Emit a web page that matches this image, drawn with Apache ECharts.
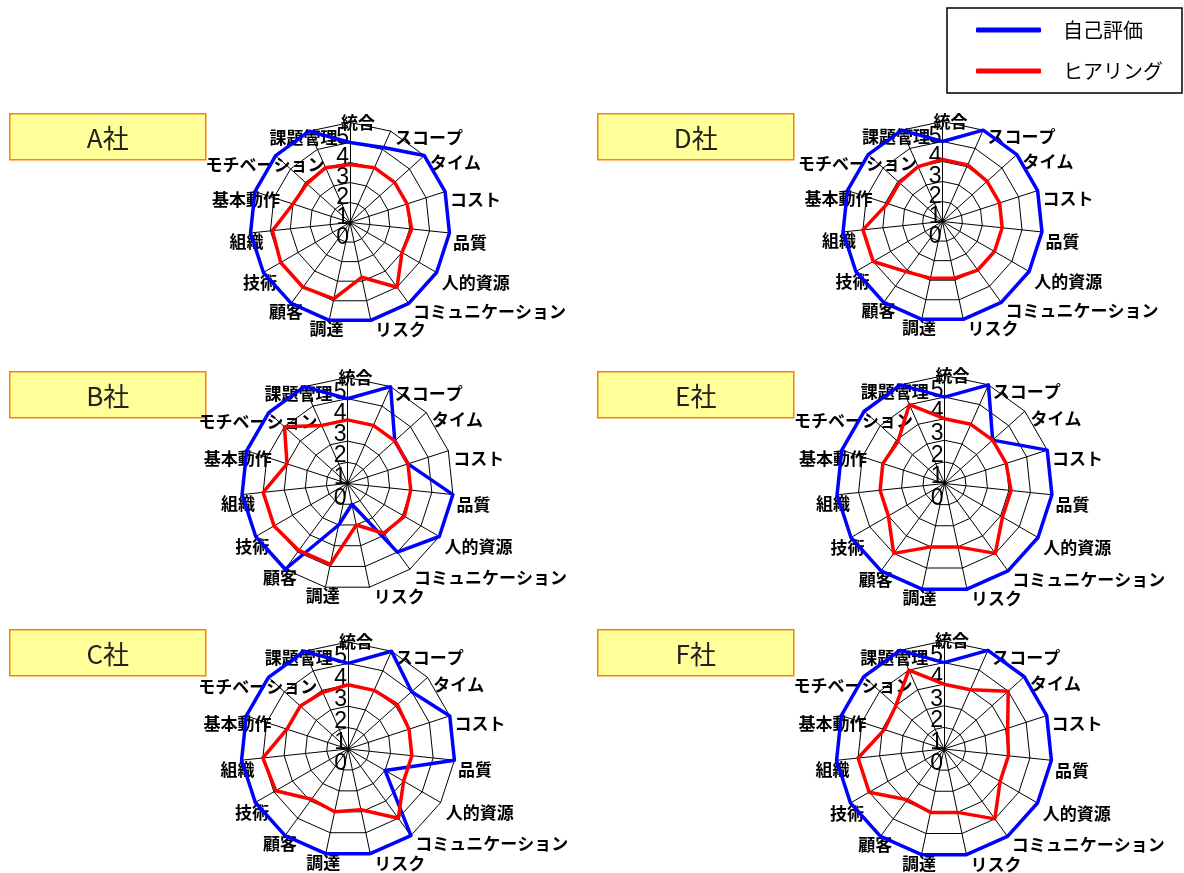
<!DOCTYPE html>
<html>
<head>
<meta charset="utf-8">
<script src="https://cdn.jsdelivr.net/npm/echarts@6/dist/echarts.min.js"></script>
<style>
  html, body { margin: 0; padding: 0; background: #fff; }
  #chart { width: 1184px; height: 873px; }
</style>
</head>
<body>
<div id="chart"></div>
<script>
// Evaluation items, listed clockwise from the top
const axes = ['統合', 'スコープ', 'タイム', 'コスト', '品質', '人的資源', 'コミュニケーション',
  'リスク', '調達', '顧客', '技術', '組織', '基本動作', 'モチベーション', '課題管理'];
const seriesNames = ['自己評価', 'ヒアリング'];
const companies = ['A社', 'B社', 'C社', 'D社', 'E社', 'F社'];
const tickLabels = ['0', '1', '2', '3', '4', '5'];
const scoreMax = 5;

// Self assessment scores per company
const selfA = [4, 4.1, 5, 5, 5, 5, 5, 5, 5, 5, 5, 5, 5, 5, 5];
const selfB = [4, 5, 3, 3, 5, 5, 4, 1, 2, 5, 5, 5, 5, 5, 5];
const selfC = [4, 5, 4, 5, 5, 2, 5, 5, 5, 5, 5, 5, 5, 5, 5];
const selfD = [4, 5, 5, 5, 5, 5, 5, 5, 5, 5, 5, 5, 5, 5, 5];
const selfE = [4, 5, 3, 5, 5, 5, 5, 5, 5, 5, 5, 5, 5, 5, 5];
const selfF = [4, 5, 5, 5, 5, 5, 5, 5, 5, 5, 5, 5, 5, 5, 5];

// Interview (hearing) scores per company
const hearA = [2.9, 3, 3, 3, 3.1, 3, 4, 2.8, 3.9, 4, 4, 3.9, 3, 2.9, 3];
const hearB = [3, 3, 3, 3, 3, 3.1, 2.9, 2, 3.9, 3.9, 4, 4, 3, 4, 3];
const hearC = [3, 3, 3.1, 3, 3, 3, 4, 2.9, 3, 2.9, 3.9, 4, 3, 3, 2.9];
const hearD = [3.1, 3.1, 3, 3, 3, 3, 3, 2.9, 2.9, 3.1, 4, 4, 2.9, 2.9, 3];
const hearE = [3, 3, 3, 3, 3.1, 3.1, 4, 3, 3, 4, 3, 3, 3, 2.9, 4];
const hearF = [3, 3, 4, 3.1, 3, 3, 4, 3, 3, 2.9, 4, 4, 2.9, 3, 4];

const selfScores = [selfA, selfB, selfC, selfD, selfE, selfF];
const hearScores = [hearA, hearB, hearC, hearD, hearE, hearF];

// Panel geometry: radar centre / radius, and the name plate rectangle
const panels = [
  { cx: 350, cy: 222.5, r: 100, box: [9, 113] },
  { cx: 347.5, cy: 483.5, r: 106, box: [9, 371] },
  { cx: 348, cy: 749, r: 107, box: [9, 629] },
  { cx: 942.5, cy: 221.5, r: 100, box: [597, 113] },
  { cx: 944.5, cy: 483.5, r: 108, box: [597, 371] },
  { cx: 944, cy: 749, r: 108, box: [597, 629] }
];

// Scale numbers sit a little below their rings
const TICK_DROP = 15;

// Per-item nudge [right, down] of each axis name, in px (clockwise order)
const nameNudge = [
  [8, 11.5], [3, 9.5], [3.5, 9], [2, 9], [0.5, 9.5], [2.5, 9], [2.5, 6], [3.5, 6.5],
  [15, 5.5], [13.6, 6], [16.2, 9], [16, 8.6], [28, 9], [51, 11], [29.4, 9.5]
];

const BLUE = '#0000FF';
const RED = '#FF0000';
const JP = '"Noto Sans CJK JP", "Noto Sans", sans-serif';
const NAME_SIZE = 17;

// ECharts lays radar indicators counter-clockwise; flip so items run clockwise
const clockwise = arr => [arr[0]].concat(arr.slice(1).reverse());

// Rich styles: one per axis name so each can carry its own nudge
const nameRich = {};
axes.forEach((name, k) => {
  const dx = nameNudge[k][0];
  const dy = nameNudge[k][1];
  let pad;
  if (k === 0) {
    pad = [0, 0, -dy, 2 * dx];          // centred, bottom aligned
  } else if (k <= 7) {
    pad = [2 * dy, 0, 0, dx];           // left aligned (right half)
  } else {
    pad = [2 * dy, -dx, 0, 0];          // right aligned (left half)
  }
  nameRich['n' + k] = {
    padding: pad,
    color: '#000',
    fontSize: NAME_SIZE,
    fontWeight: 'bold',
    fontFamily: JP
  };
});

const radars = [];
const polars = [];
const angleAxes = [];
const radiusAxes = [];
const series = [];
const graphics = [];

// Scale numbers: even steps (0,2,4) and odd steps (1,3,5) on two frames so the
// large digits never collide with each other's label boxes
function addScaleFrame(p, lo, hi) {
  const idx = polars.length;
  polars.push({
    center: [p.cx, p.cy + TICK_DROP],
    radius: [p.r * lo / scoreMax, p.r * hi / scoreMax]
  });
  angleAxes.push({ polarIndex: idx, startAngle: 90, show: false, min: 0, max: 360 });
  radiusAxes.push({
    polarIndex: idx,
    min: lo,
    max: hi,
    interval: 2,
    axisLine: { show: false },
    axisTick: { show: false },
    splitLine: { show: false },
    axisLabel: {
      show: true,
      showMinLabel: true,
      showMaxLabel: true,
      margin: 1,
      color: '#000',
      fontSize: 23,
      fontFamily: '"Liberation Sans", Arial, sans-serif',
      verticalAlign: 'middle',
      formatter: v => tickLabels[Math.round(v)]
    }
  });
}

panels.forEach((p, i) => {
  radars.push({
    center: [p.cx, p.cy],
    radius: p.r,
    startAngle: 90,
    shape: 'polygon',
    splitNumber: 5,
    indicator: clockwise(axes).map(name => ({ name: name, min: 0, max: scoreMax })),
    nameGap: 3,
    axisName: {
      color: '#000',
      fontSize: NAME_SIZE,
      fontWeight: 'bold',
      fontFamily: JP,
      formatter: name => '{n' + axes.indexOf(name) + '|' + name + '}',
      rich: nameRich
    },
    splitLine: { lineStyle: { color: '#000', width: 1 } },
    splitArea: { show: false },
    axisLine: { lineStyle: { color: '#000', width: 1 } },
    axisTick: { show: false },
    axisLabel: { show: false }
  });

  addScaleFrame(p, 0, 4);
  addScaleFrame(p, 1, 5);

  series.push({
    type: 'radar',
    radarIndex: i,
    symbol: 'none',
    data: [
      {
        name: seriesNames[0],
        value: clockwise(selfScores[i]),
        lineStyle: { color: BLUE, width: 3.5 },
        itemStyle: { color: BLUE }
      },
      {
        name: seriesNames[1],
        value: clockwise(hearScores[i]),
        lineStyle: { color: RED, width: 3.5 },
        itemStyle: { color: RED }
      }
    ]
  });

  graphics.push({
    type: 'group',
    left: p.box[0],
    top: p.box[1],
    children: [
      {
        type: 'rect',
        shape: { x: 0, y: 0, width: 196, height: 46 },
        style: { fill: '#FFFF99', stroke: '#FF8000', lineWidth: 1.5 }
      },
      {
        type: 'text',
        x: 98,
        y: 24,
        style: {
          text: companies[i],
          fill: '#222',
          font: '26px ' + JP,
          textAlign: 'center',
          textVerticalAlign: 'middle'
        }
      }
    ]
  });
});

const chart = echarts.init(document.getElementById('chart'), null, { renderer: 'canvas' });
chart.setOption({
  animation: false,
  backgroundColor: '#fff',
  legend: {
    data: seriesNames,
    orient: 'vertical',
    left: 947,
    top: 8,
    padding: [12, 19, 12, 29],
    itemGap: 21,
    itemWidth: 65,
    itemHeight: 5,
    icon: 'roundRect',
    borderColor: '#000',
    borderWidth: 1.5,
    textStyle: { fontSize: 20, lineHeight: 20, color: '#000', fontFamily: JP, padding: [0, 0, 0, 17] }
  },
  radar: radars,
  polar: polars,
  angleAxis: angleAxes,
  radiusAxis: radiusAxes,
  series: series,
  graphic: graphics
});
</script>
</body>
</html>
